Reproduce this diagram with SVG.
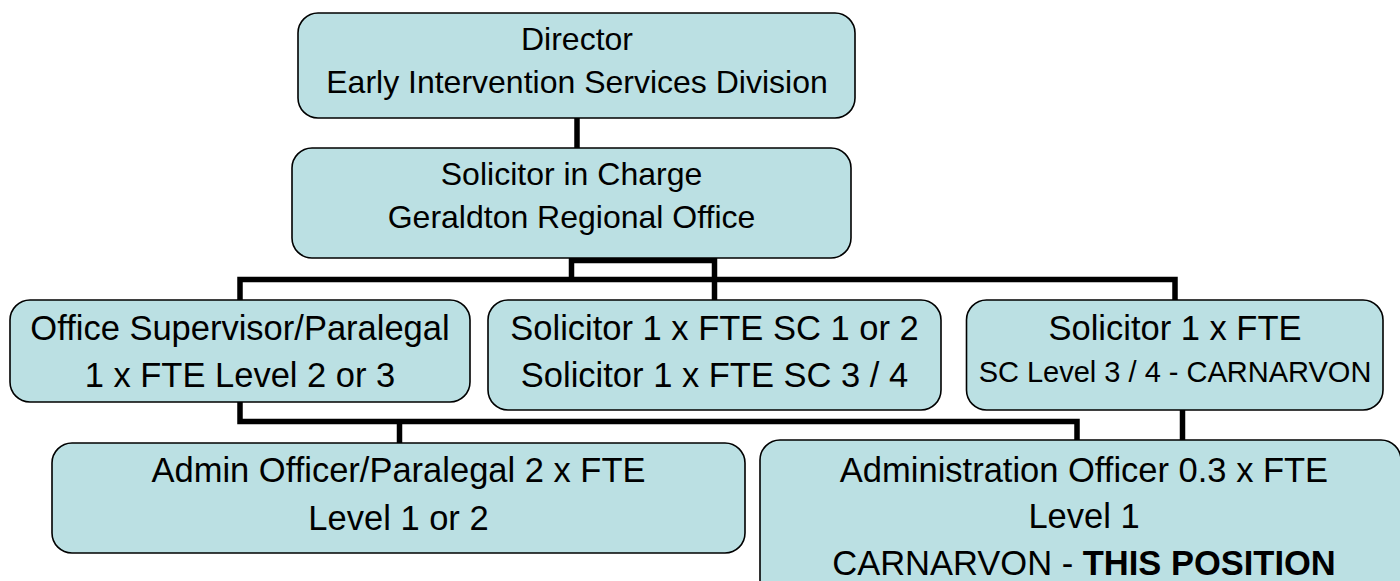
<svg xmlns="http://www.w3.org/2000/svg" width="1400" height="581" viewBox="0 0 1400 581">
<style>
.box{fill:#BBE0E3;stroke:#000;stroke-width:1.6}
.t{font-family:"Liberation Sans",Arial,sans-serif;fill:#000;text-anchor:middle}
.t1{font-size:32px}
.t2{font-size:34.5px}
.t3{font-size:29px}
.b{font-weight:bold}
.c{fill:none;stroke:#000;stroke-width:5.5;stroke-linejoin:miter;stroke-linecap:butt}
</style>
<rect width="1400" height="581" fill="#fff"/>
<g id="connectors">
<path class="c" d="M577,118 V148"/>
<path class="c" d="M571.5,258 V282"/>
<path class="c" d="M571.5,260.5 H714.5"/>
<path class="c" d="M714.5,258 V300"/>
<path class="c" d="M240,300 V279.5 H1175 V300"/>
<path class="c" d="M240,402 V421.5 H1077 V440"/>
<path class="c" d="M399.5,421.5 V443"/>
<path class="c" d="M1182.5,410 V440"/>
</g>
<g id="director">
<rect class="box" x="298" y="13" width="557" height="105" rx="20"/>
<text class="t t1" x="577" y="50">Director</text>
<text class="t t1" x="577" y="93">Early Intervention Services Division</text>
</g>
<g id="solicitor-in-charge">
<rect class="box" x="292" y="148" width="559" height="110" rx="20"/>
<text class="t t1" x="571.5" y="185">Solicitor in Charge</text>
<text class="t t1" x="571.5" y="228">Geraldton Regional Office</text>
</g>
<g id="office-supervisor">
<rect class="box" x="10" y="300" width="460" height="102" rx="20"/>
<text class="t t2" x="240" y="340">Office Supervisor/Paralegal</text>
<text class="t t2" x="240" y="387">1 x FTE Level 2 or 3</text>
</g>
<g id="solicitors">
<rect class="box" x="488" y="300" width="453" height="110" rx="20"/>
<text class="t t2" x="714.5" y="340">Solicitor 1 x FTE SC 1 or 2</text>
<text class="t t2" x="714.5" y="387">Solicitor 1 x FTE SC 3 / 4</text>
</g>
<g id="solicitor-carnarvon">
<rect class="box" x="966.5" y="300" width="416.5" height="110" rx="20"/>
<text class="t t2" x="1175" y="340">Solicitor 1 x FTE</text>
<text class="t t3" x="1175" y="382">SC Level 3 / 4 - CARNARVON</text>
</g>
<g id="admin-officer">
<rect class="box" x="52" y="443" width="693" height="110" rx="20"/>
<text class="t t2" x="398.5" y="482">Admin Officer/Paralegal 2 x FTE</text>
<text class="t t2" x="398.5" y="530">Level 1 or 2</text>
</g>
<g id="administration-officer">
<rect class="box" x="760" y="440" width="641" height="160" rx="20"/>
<text class="t t2" x="1084" y="482">Administration Officer 0.3 x FTE</text>
<text class="t t2" x="1084" y="528">Level 1</text>
<text class="t t2" x="1084" y="575">CARNARVON - <tspan class="b">THIS POSITION</tspan></text>
</g>
</svg>
